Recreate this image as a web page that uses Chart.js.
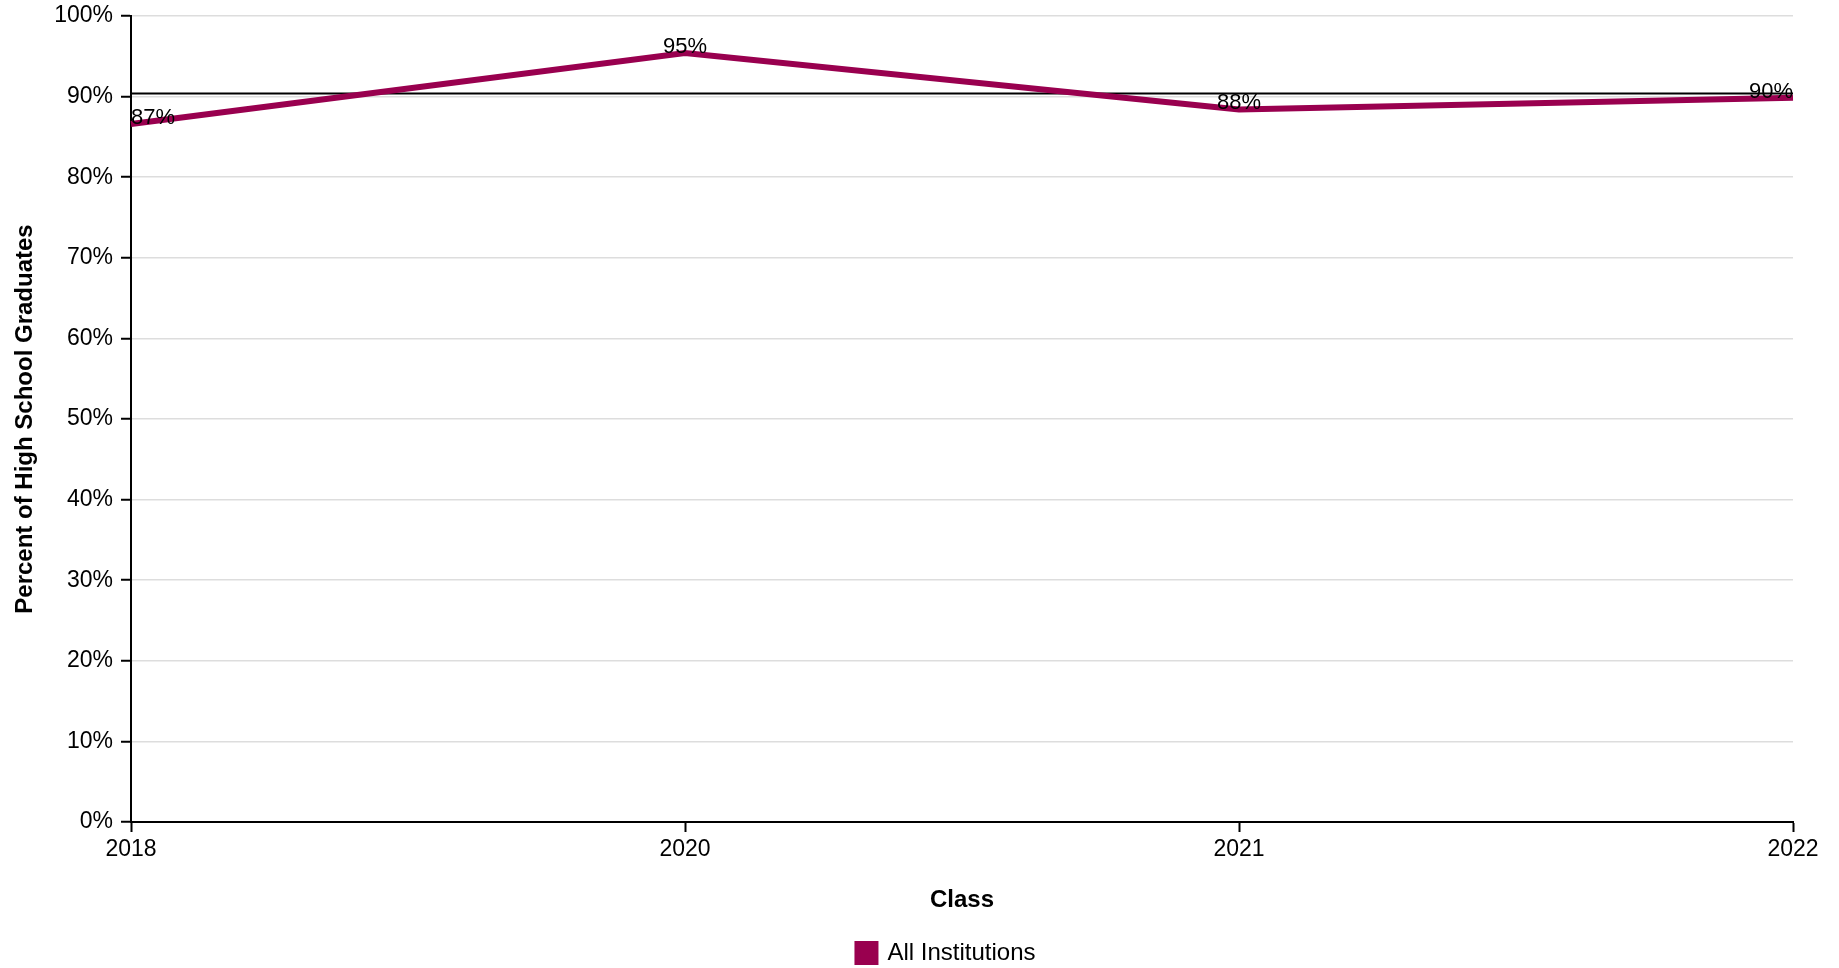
<!DOCTYPE html>
<html>
<head>
<meta charset="utf-8">
<title>High School Graduates</title>
<script src="https://cdn.jsdelivr.net/npm/chart.js@4.4.1/dist/chart.umd.min.js"></script>
<style>
    html, body { margin: 0; padding: 0; background: #fff; }
    #wrap { width: 1839px; height: 968px; position: relative; }
</style>
</head>
<body>
<div id="wrap"><canvas id="myChart"></canvas></div>
<script>
// Chart data
const classYears = ["2018", "2020", "2021", "2022"];
const allInstitutions = [86.6, 95.4, 88.4, 89.85];
const benchmarkLine = [90.4, 90.4, 90.4, 90.4]; // black reference line
const yTicks = [0, 10, 20, 30, 40, 50, 60, 70, 80, 90, 100];

const lineColor = "#99004f";
const fontFamily = "'Liberation Sans', Arial, Helvetica, sans-serif";

// Draw "87%" style labels above each point
const pointLabels = {
    id: "pointLabels",
    afterDatasetsDraw(chart) {
        const ctx = chart.ctx;
        const meta = chart.getDatasetMeta(0);
        ctx.save();
        ctx.font = "22px " + fontFamily;
        ctx.fillStyle = "#000";
        ctx.textBaseline = "alphabetic";
        meta.data.forEach((pt, i) => {
            if (i === 0) ctx.textAlign = "left";
            else if (i === meta.data.length - 1) ctx.textAlign = "right";
            else ctx.textAlign = "center";
            ctx.fillText(Math.round(allInstitutions[i]) + "%", pt.x, pt.y);
        });
        ctx.restore();
    }
};

// Legend sits a bit right of the canvas centre in the original
const legendShift = {
    id: "legendShift",
    afterLayout(chart) {
        if (chart.legend) {
            chart.legend.left += 50;
            chart.legend.right += 50;
        }
    }
};

const ctx = document.getElementById("myChart").getContext("2d");
new Chart(ctx, {
    type: "line",
    data: {
        labels: classYears,
        datasets: [{
            label: "All Institutions",
            data: allInstitutions,
            borderColor: lineColor,
            backgroundColor: lineColor,
            borderWidth: 6,
            pointRadius: 0,
            tension: 0,
            fill: false,
            order: 1
        }, {
            label: "benchmark",
            data: benchmarkLine,
            borderColor: "#000",
            borderWidth: 2,
            pointRadius: 0,
            fill: false,
            order: 2
        }]
    },
    options: {
        responsive: true,
        maintainAspectRatio: false,
        animation: false,
        layout: {
            padding: { left: 0, right: 46, top: 16, bottom: -7 }
        },
        plugins: {
            tooltip: { enabled: false },
            legend: {
                position: "bottom",
                labels: {
                    filter: item => item.datasetIndex === 0,
                    boxWidth: 18,
                    boxHeight: 18,
                    color: "#000",
                    padding: 22,
                    font: { family: fontFamily, size: 24 }
                }
            }
        },
        scales: {
            x: {
                offset: false,
                grid: {
                    drawOnChartArea: false,
                    drawTicks: true,
                    tickLength: 10,
                    tickColor: "#000",
                    tickWidth: 2
                },
                border: { color: "#000", width: 2 },
                ticks: {
                    color: "#000",
                    padding: 4,
                    maxRotation: 0,
                    font: { family: fontFamily, size: 23 }
                },
                title: {
                    display: true,
                    text: "Class",
                    color: "#000",
                    padding: { top: 4, bottom: 4 },
                    font: { family: fontFamily, size: 24, weight: "bold" }
                },
                afterFit: function (scale) {
                    scale.height = 97;
                    scale.paddingLeft = 0;
                    scale.paddingRight = 0;
                }
            },
            y: {
                min: 0,
                max: 100,
                afterBuildTicks: function (scale) {
                    scale.ticks = yTicks.map(v => ({ value: v }));
                },
                grid: {
                    color: "#dddddd",
                    lineWidth: 1.5,
                    tickColor: "#000",
                    tickLength: 10,
                    tickWidth: 2
                },
                border: { color: "#000", width: 2 },
                ticks: {
                    color: "#000",
                    padding: 8,
                    callback: v => v + "%",
                    font: { family: fontFamily, size: 23 }
                },
                title: {
                    display: true,
                    text: "Percent of High School Graduates",
                    color: "#000",
                    padding: { top: 11, bottom: 8 },
                    font: { family: fontFamily, size: 24, weight: "bold" }
                },
                afterFit: function (scale) {
                    scale.width = 131;
                    scale.paddingTop = 0;
                    scale.paddingBottom = 0;
                }
            }
        }
    },
    plugins: [pointLabels, legendShift]
});
</script>
</body>
</html>
